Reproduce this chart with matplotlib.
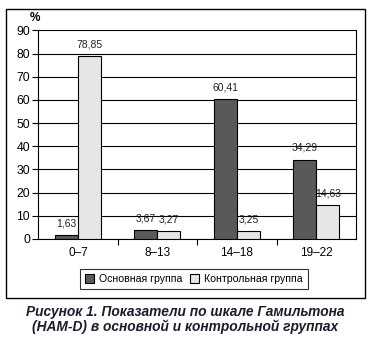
import numpy as np
import matplotlib.pyplot as plt
from matplotlib.patches import Rectangle

categories = ["0–7", "8–13", "14–18", "19–22"]
main_group = [1.63, 3.67, 60.41, 34.29]
control_group = [78.85, 3.27, 3.25, 14.63]
series_names = ["Основная группа", "Контрольная группа"]

plt.rcParams['font.family'] = ['Liberation Sans', 'DejaVu Sans']

fig = plt.figure(figsize=(3.7, 3.38), dpi=100)
ax = fig.add_axes([0.1035, 0.2929, 0.8585, 0.6169])

x = np.arange(len(categories))
w = 0.29
b1 = ax.bar(x - w / 2, main_group, w, color="#595959", edgecolor="black", linewidth=0.8,
            label=series_names[0], zorder=3)
b2 = ax.bar(x + w / 2, control_group, w, color="#e6e6e6", edgecolor="black", linewidth=0.8,
            label=series_names[1], zorder=3)

for bars, vals in ((b1, main_group), (b2, control_group)):
    for r, v in zip(bars, vals):
        ax.text(r.get_x() + r.get_width() / 2, v + 3.0, f"{v:.2f}".replace(".", ","),
                ha="center", va="bottom", fontsize=7.5, color="#222222")

ax.set_xlim(-0.5, 3.5)
ax.set_ylim(0, 90)
ax.set_yticks(range(0, 91, 10))
ax.yaxis.grid(True, color="black", linewidth=0.8)
ax.set_axisbelow(True)
ax.spines['top'].set_visible(False)
for s in ax.spines.values():
    s.set_linewidth(0.8)

ax.set_xticks(x)
ax.set_xticklabels(categories, fontsize=8.5)
ax.set_xticks([0.5, 1.5, 2.5], minor=True)
ax.tick_params(axis='x', which='major', length=0, pad=6)
ax.tick_params(axis='x', which='minor', length=4, width=0.8, direction='out')
ax.tick_params(axis='y', labelsize=8.8, length=4, width=0.8, pad=2)

fig.text(0.095, 0.948, "%", fontsize=8.5, fontweight='bold', ha='center', va='center')

leg = fig.legend(loc='center', bbox_to_anchor=(0.524, 0.174), ncol=2, fontsize=7.6,
                 frameon=True, fancybox=False, edgecolor='black', handlelength=0.9,
                 handleheight=0.9, handletextpad=0.45, columnspacing=0.7,
                 borderpad=0.5)
leg.get_frame().set_linewidth(0.8)

# outer frame around chart
fig.patches.append(Rectangle((0.017, 0.118), 0.969, 0.855, transform=fig.transFigure,
                             fill=False, edgecolor='black', linewidth=1.0))

fig.text(0.5, 0.055, "Рисунок 1. Показатели по шкале Гамильтона\n(HAM-D) в основной и контрольной группах",
         ha='center', va='center', fontsize=9.9, fontweight='bold', fontstyle='italic',
         color="#1c1c2c", linespacing=1.0)

fig.savefig("out.png", dpi=100)
